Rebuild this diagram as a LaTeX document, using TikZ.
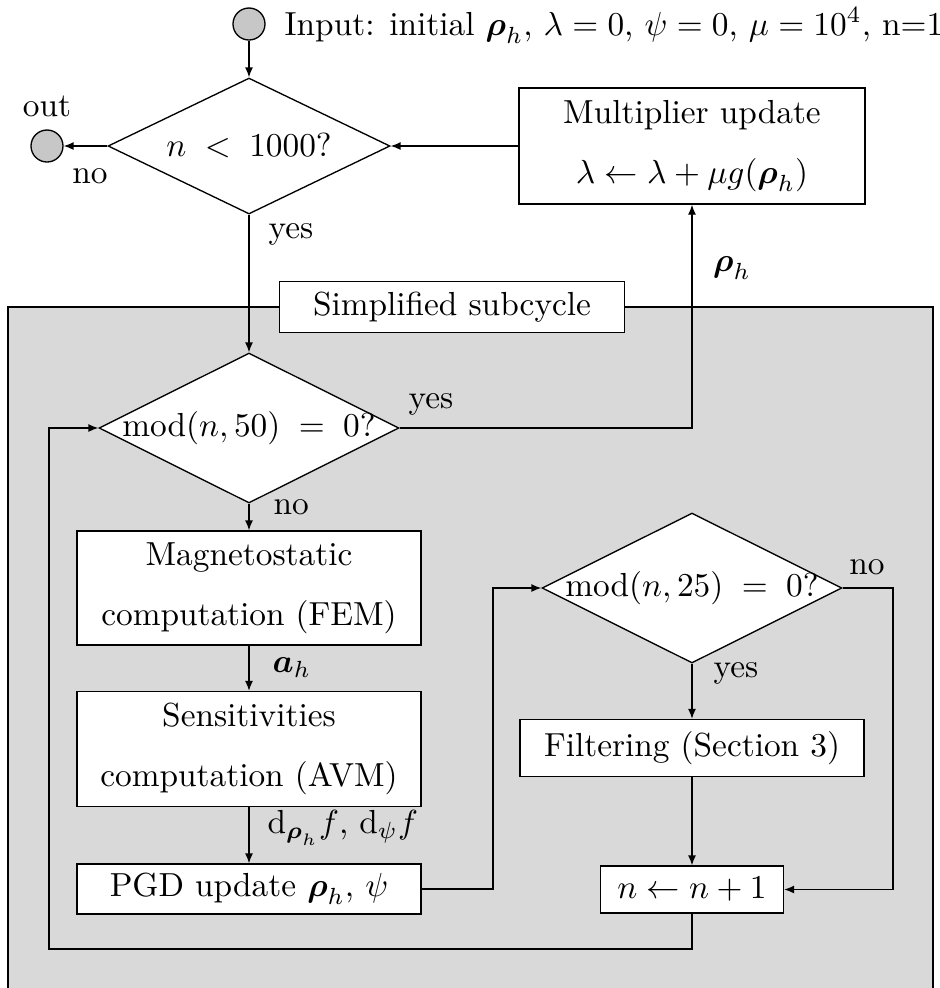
\documentclass[tikz,border=0pt]{standalone}
\usepackage{amsmath}
\usetikzlibrary{shapes.geometric,arrows.meta}
\begin{document}
\begin{tikzpicture}[x=0.3pt,y=-0.3pt,
  box/.style={draw,fill=white,rectangle,inner sep=0pt,align=center},
  dec/.style={draw,fill=white,diamond,inner sep=0pt,aspect=2},
  term/.style={draw,fill=black!22,circle,minimum size=9.6pt,inner sep=0pt},
  arr/.style={-{Latex[length=3pt,width=2.4pt]}},
  lbl/.style={inner sep=0pt}]
\useasboundingbox (0,0) rectangle (940,988);
% background region
\fill[black!15] (8,307) rectangle (933,1000);
\draw (8,1000) -- (8,307) -- (933,307) -- (933,1000);

% nodes
\node[term] (in) at (249,24) {};
\node[lbl,anchor=base west] (intext) at (284,35) {Input: initial $\boldsymbol{\rho}_h$, $\lambda=0$, $\psi=0$, $\mu=10^4$, n=1};
\node[term] (out) at (47,146) {};
\node[lbl] (outtext) at (47,106) {out};
\node[dec,minimum width=84.6pt,minimum height=40.8pt] (d1) at (249,146) {\makebox[0pt]{$n\;<\;1000?$}};
\node[box,minimum width=103.8pt,minimum height=34.8pt] (mult) at (692,146) {Multiplier update\\[6pt]$\lambda\leftarrow\lambda+\mu g(\boldsymbol{\rho}_h)$};
\node[box,minimum width=103.5pt,minimum height=15.3pt] (sub) at (452,307) {Simplified subcycle};
\node[dec,minimum width=90pt,minimum height=45pt] (d2) at (249,428) {\makebox[0pt]{$\mathrm{mod}(n,50)\;=\;0?$}};
\node[box,minimum width=103.2pt,minimum height=34.2pt] (mag) at (249,588) {Magnetostatic\\[6pt]computation (FEM)};
\node[box,minimum width=103.2pt,minimum height=34.5pt] (sens) at (249,749) {Sensitivities\\[6pt]computation (AVM)};
\node[box,minimum width=103.2pt,minimum height=15pt] (pgd) at (249,889) {PGD update $\boldsymbol{\rho}_h$, $\psi$};
\node[dec,minimum width=90pt,minimum height=45pt] (d3) at (692,588) {\makebox[0pt]{$\mathrm{mod}(n,25)\;=\;0?$}};
\node[box,minimum width=103.2pt,minimum height=17.1pt] (filt) at (692,748) {Filtering (Section 3)};
\node[box,minimum width=54.9pt,minimum height=14.1pt] (nbox) at (692,889.5) {$n\leftarrow n+1$};

% connector labels
\node[lbl] (lno1) at (90,176) {no};
\node[lbl,anchor=west] (lyes1) at (268,234) {yes};
\node[lbl] (lrho) at (732,268) {$\boldsymbol{\rho}_h$};
\node[lbl,anchor=west] (lyes2) at (408,404) {yes};
\node[lbl,anchor=west] (lno2) at (273,507) {no};
\node[lbl,anchor=west] (lah) at (272,668) {$\boldsymbol{a}_h$};
\node[lbl,anchor=west] (ld) at (267,828) {$\mathrm{d}_{\boldsymbol{\rho}_h}f$, $\mathrm{d}_{\psi}f$};
\node[lbl] (lno3) at (867,567) {no};
\node[lbl,anchor=west] (lyes3) at (713,673) {yes};

% bend points
\coordinate (c1) at (493,0);
\coordinate (c2) at (893,0);
\coordinate (c3) at (49,949);

% connectors
\draw[arr] (in) -- (d1);
\draw[arr] (d1.west) -- (out);
\draw[arr] (mult.west) -- (d1.east);
\draw[arr] (d1.south) -- (d2.north);
\draw[arr] (d2.east) -| (mult.south);
\draw[arr] (d2.south) -- (mag.north);
\draw[arr] (mag) -- (sens);
\draw[arr] (sens) -- (pgd);
\draw[arr] (pgd.east) -- (pgd.east -| c1) |- (d3.west);
\draw[arr] (d3.south) -- (filt);
\draw[arr] (d3.east) -- (d3.east -| c2) |- (nbox.east);
\draw[arr] (filt) -- (nbox);
\draw[arr] (nbox.south) |- (c3) |- (d2.west);
\end{tikzpicture}
\end{document}
